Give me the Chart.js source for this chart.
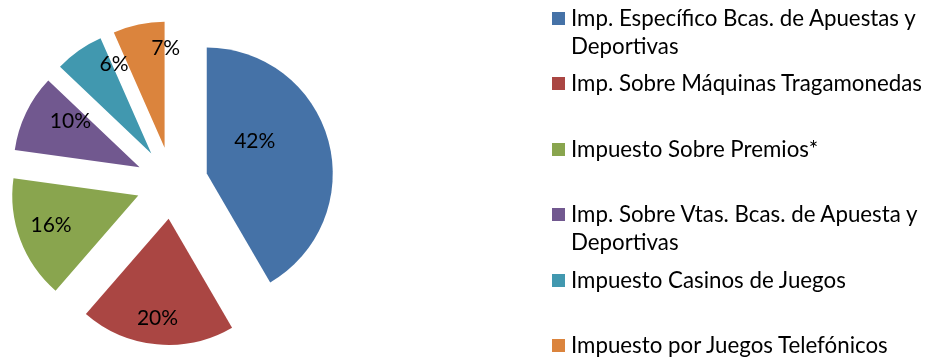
<!DOCTYPE html>
<html>
<head>
<meta charset="utf-8">
<script src="https://cdn.jsdelivr.net/npm/chart.js@4"></script>
<style>
  html, body { margin: 0; padding: 0; background: #fff; }
  #wrap { position: relative; width: 931px; height: 358px; overflow: hidden; }
  #pie { position: absolute; left: 0; top: 0; }
  #legend { position: absolute; left: 552px; top: 0; font-family: Lato, sans-serif; font-size: 22.3px; color: #000; }
  .leg-item { position: absolute; left: 0; width: 378px; display: flex; align-items: flex-start; line-height: 28px; }
  .leg-box { width: 13px; height: 13px; flex: none; margin-top: 8px; margin-right: 6px; }
</style>
</head>
<body>
<div id="wrap">
  <canvas id="pie" width="931" height="358"></canvas>
  <div id="legend"></div>
</div>
<script>
const categories = [
    'Imp. Específico Bcas. de Apuestas y Deportivas',
    'Imp. Sobre Máquinas Tragamonedas',
    'Impuesto Sobre Premios*',
    'Imp. Sobre Vtas. Bcas. de Apuesta y Deportivas',
    'Impuesto Casinos de Juegos',
    'Impuesto por Juegos Telefónicos'
];
const shares = [41.6, 19.8, 15.8, 9.9, 6.3, 6.6];
const colors = ['#4572A7', '#AA4643', '#89A54E', '#71588F', '#4198AF', '#DB843D'];

// how far each slice is pulled out from the centre
const GAP = 36;
// label spot per slice: [turn from mid-angle in degrees, fraction of radius]
const labelSpots = [[-19, 0.46], [1, 0.79], [2, 0.73], [8, 0.66], [12.5, 0.77], [12.5, 0.79]];

function pullOut(arc) {
    const mid = (arc.startAngle + arc.endAngle) / 2;
    return { x: Math.cos(mid) * GAP, y: Math.sin(mid) * GAP, mid };
}

// draw slices exploded without chart.js's own offset (it also grows the radius)
const explodePlugin = {
    id: 'explode',
    beforeDatasetDraw(chart, args) {
        const ctx = chart.ctx;
        args.meta.data.forEach(arc => {
            const p = pullOut(arc);
            ctx.save();
            ctx.translate(p.x, p.y);
            arc.draw(ctx);
            ctx.restore();
        });
        return false;
    }
};

const pctPlugin = {
    id: 'pctLabels',
    afterDatasetsDraw(chart) {
        const ctx = chart.ctx;
        const meta = chart.getDatasetMeta(0);
        const total = shares.reduce((a, b) => a + b, 0);
        ctx.save();
        ctx.font = '21px Lato, sans-serif';
        ctx.fillStyle = '#000';
        ctx.textAlign = 'center';
        ctx.textBaseline = 'middle';
        meta.data.forEach((arc, i) => {
            const p = pullOut(arc);
            const a = p.mid + labelSpots[i][0] * Math.PI / 180;
            const d = labelSpots[i][1] * arc.outerRadius;
            const x = arc.x + p.x + Math.cos(a) * d;
            const y = arc.y + p.y + Math.sin(a) * d;
            ctx.fillText(Math.round(shares[i] / total * 100) + '%', x, y);
        });
        ctx.restore();
    }
};

new Chart(document.getElementById('pie'), {
    type: 'pie',
    data: {
        labels: categories,
        datasets: [{
            data: shares,
            backgroundColor: colors,
            borderWidth: 0,
            clip: false
        }]
    },
    options: {
        responsive: false,
        animation: false,
        radius: 126,
        layout: { padding: { top: 8, right: 587 } },
        plugins: { legend: { display: false }, tooltip: { enabled: false } }
    },
    plugins: [explodePlugin, pctPlugin]
});

// legend on the right, rows at an even pitch like the original
const legend = document.getElementById('legend');
categories.forEach((name, i) => {
    const item = document.createElement('div');
    item.className = 'leg-item';
    item.style.top = (18 + i * 65.4 - 14) + 'px';
    item.innerHTML = `<span class="leg-box" style="background:${colors[i]}"></span><span>${name}</span>`;
    legend.appendChild(item);
});
</script>
</body>
</html>
